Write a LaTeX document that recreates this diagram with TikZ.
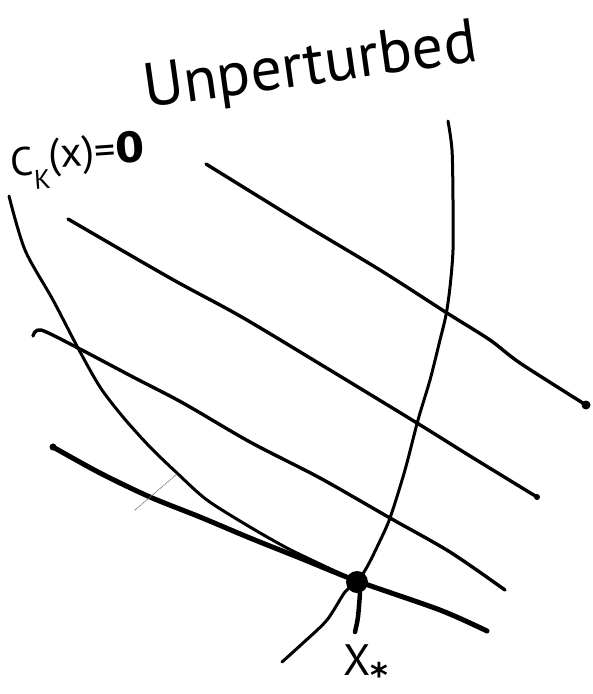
\documentclass[tikz,border=0pt]{standalone}
\usepackage{fontspec}
\newfontfamily\hand{PT Sans}
\newfontfamily\symf{DejaVu Sans}
\begin{document}
\begin{tikzpicture}[x=1pt,y=-1pt,line cap=round,line join=round]
\useasboundingbox[fill=white] (0,0) rectangle (593,694);
\tikzset{
  stroke/.style={draw=black,line width=3.4pt},
  thickstroke/.style={draw=black,line width=5pt},
  curvestroke/.style={draw=black,line width=3pt},
  handtext/.style={text=black,inner sep=0pt},
  blob/.style={fill=black,circle,inner sep=0pt},
  guide/.style={draw=black!55,line width=0.8pt,densely dotted}
}
% level lines
\draw[stroke] plot[smooth,tension=0.5] coordinates {(206,164) (300,222) (380,270) (447,313) (490,340) (520,363) (586,405)};
\node[blob,minimum size=9pt] (e1) at (586,405) {};
\draw[stroke] plot[smooth,tension=0.5] coordinates {(68,219) (170,278) (240,316) (320,364) (417,423) (470,456) (537,497)};
\node[blob,minimum size=6pt] (e2) at (537,497) {};
\draw[stroke] plot[smooth,tension=0.5] coordinates {(33,336) (41,330) (78,348) (133,377) (183,403) (250,442) (320,478) (390,518) (450,552) (505,590)};
\draw[thickstroke] plot[smooth,tension=0.5] coordinates {(53,447) (100,473) (150,497) (200,517) (250,538) (300,558) (357,581) (440,610) (487,631)};
\node[blob,minimum size=7pt] (e4) at (53,447) {};
% constraint curve
\draw[curvestroke] plot[smooth,tension=0.5] coordinates {(9,196) (25,250) (53,300) (78,348) (100,387) (123,417) (150,447) (177,473) (207,500) (250,527) (287,548) (320,564) (350,578)};
% unperturbed path
\draw[curvestroke] plot[smooth,tension=0.5] coordinates {(448,121) (452,150) (453,200) (453,250) (450,287) (446,315) (440,340) (430,380) (418,420) (405,470) (390,518) (378,545) (367,567) (357,582) (345,592) (327,620) (303,643) (282,662)};
\draw[thickstroke,line width=4.5pt] plot[smooth,tension=0.5] coordinates {(360,593) (358,617) (355,632)};
% solution point
\node[blob,minimum size=22pt] (xs) at (357,582) {};
% dotted guide
\coordinate (g1) at (135,510);
\coordinate (g2) at (177,474);
\draw[guide] (g1) -- (g2);
% labels
\node[handtext,anchor=base west,rotate=8,font=\hand\fontsize{62}{62}\selectfont] (unp) at (146,108) {Unperturbed};
\node[handtext,anchor=base west,rotate=4] (ck) at (11,177) {\hand\fontsize{40}{40}\selectfont C\raisebox{-14pt}{\fontsize{27}{27}\selectfont K}\raisebox{6pt}{\fontsize{42}{42}\selectfont (x)=\symf\bfseries 0}};
\node[handtext,anchor=base west] (xl) at (343,675) {\hand\fontsize{44}{44}\selectfont X\raisebox{-12pt}{\symf\bfseries\fontsize{34}{34}\selectfont *}};
\end{tikzpicture}
\end{document}
